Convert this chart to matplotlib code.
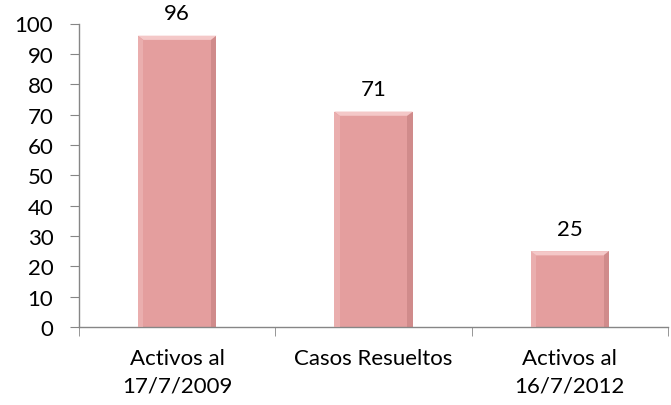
import matplotlib

matplotlib.use("Agg")
import matplotlib.pyplot as plt
from matplotlib.patches import Polygon

plt.rcParams["font.family"] = ["Lato", "DejaVu Sans"]

categories = ["Activos al\n17/7/2009", "Casos Resueltos", "Activos al\n16/7/2012"]
values = [96, 71, 25]

BAR_COLOR = "#E49E9E"
LIGHT = "#F4C8C8"
DARK = "#B87575"
AXIS_COLOR = "#868686"

fig = plt.figure(figsize=(6.71, 4.06), dpi=100)
ax = fig.add_axes([79 / 671, 1 - 328 / 406, (668 - 79) / 671, (328 - 24.5) / 406])

x = list(range(len(categories)))
bars = ax.bar(x, values, width=0.4, color=BAR_COLOR, edgecolor="none", zorder=2)

# simple bevel effect on each bar
for b in bars:
    x0, w, h = b.get_x(), b.get_width(), b.get_height()
    bx = w * 0.07
    by = 1.4
    ax.add_patch(Polygon([(x0, h), (x0 + w, h), (x0 + w - bx, h - by), (x0 + bx, h - by)],
                         closed=True, color=LIGHT, lw=0, zorder=3))
    ax.add_patch(Polygon([(x0 + w, h), (x0 + w, 0), (x0 + w - bx, 0), (x0 + w - bx, h - by)],
                         closed=True, color=DARK, lw=0, alpha=0.45, zorder=3))
    ax.add_patch(Polygon([(x0, h), (x0, 0), (x0 + bx, 0), (x0 + bx, h - by)],
                         closed=True, color="#EDB5B5", lw=0, alpha=0.7, zorder=3))

for xi, v in zip(x, values):
    ax.annotate(str(v), (xi, v), xytext=(0, 9), textcoords="offset points",
                ha="center", va="bottom", fontsize=16, color="black")

ax.set_xlim(-0.5, len(categories) - 0.5)
ax.set_ylim(0, 100)
ax.set_yticks(range(0, 101, 10))
ax.tick_params(axis="y", direction="out", length=6.5, color=AXIS_COLOR, labelsize=16, pad=12)

ax.set_xticks(x)
ax.set_xticklabels(categories, fontsize=16, linespacing=1.5)
ax.tick_params(axis="x", which="major", length=0, pad=15)
ax.set_xticks([i - 0.5 for i in range(len(categories) + 1)], minor=True)
ax.tick_params(axis="x", which="minor", direction="out", length=6.5, color=AXIS_COLOR)

for s in ["top", "right"]:
    ax.spines[s].set_visible(False)
for s in ["left", "bottom"]:
    ax.spines[s].set_color(AXIS_COLOR)
    ax.spines[s].set_linewidth(1.0)

fig.savefig("out.png", dpi=100)
